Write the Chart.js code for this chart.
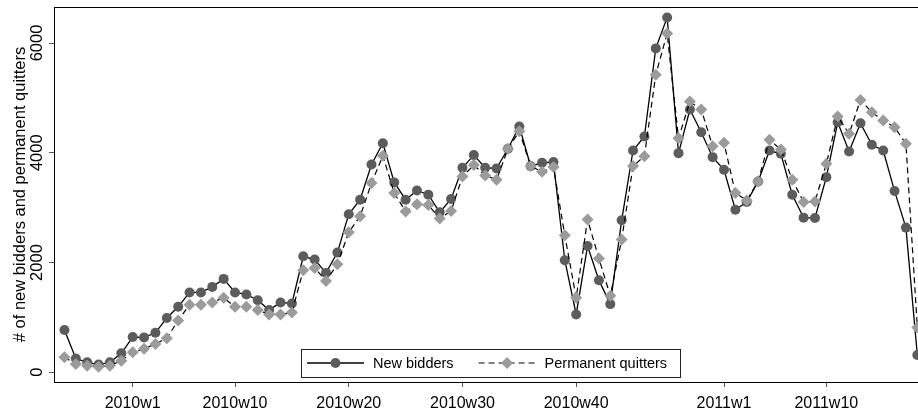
<!DOCTYPE html>
<html>
<head>
<meta charset="utf-8">
<script src="https://cdn.jsdelivr.net/npm/chart.js@4/dist/chart.umd.min.js"></script>
<style>
  html, body { margin: 0; padding: 0; background: #fff; overflow: hidden; }
  #wrap { width: 918px; height: 413px; position: relative; }
</style>
</head>
<body>
<div id="wrap"><canvas id="c"></canvas></div>
<script>
// Weekly counts, 2009w47 to 2011w18
const weeks = [
  "2009w47","2009w48","2009w49","2009w50","2009w51","2009w52",
  "2010w1","2010w2","2010w3","2010w4","2010w5","2010w6","2010w7","2010w8","2010w9","2010w10",
  "2010w11","2010w12","2010w13","2010w14","2010w15","2010w16","2010w17","2010w18","2010w19","2010w20",
  "2010w21","2010w22","2010w23","2010w24","2010w25","2010w26","2010w27","2010w28","2010w29","2010w30",
  "2010w31","2010w32","2010w33","2010w34","2010w35","2010w36","2010w37","2010w38","2010w39","2010w40",
  "2010w41","2010w42","2010w43","2010w44","2010w45","2010w46","2010w47","2010w48","2010w49","2010w50",
  "2010w51","2010w52",
  "2011w1","2011w2","2011w3","2011w4","2011w5","2011w6","2011w7","2011w8","2011w9","2011w10",
  "2011w11","2011w12","2011w13","2011w14","2011w15","2011w16","2011w17","2011w18"
];

const newBidders = [
  769, 250, 182, 140, 182, 345,
  642, 636, 720, 990, 1193, 1455, 1455, 1556, 1702, 1454,
  1418, 1314, 1133, 1273, 1254, 2114, 2054, 1811, 2181, 2878,
  3145, 3787, 4174, 3460, 3145, 3314, 3236, 2914, 3157, 3727,
  3957, 3727, 3715, 4072, 4478, 3757, 3818, 3830, 2042, 1054,
  2302, 1678, 1242, 2769, 4041, 4296, 5902, 6465, 3993, 4787,
  4374, 3920,
  3690, 2963, 3102, 3478, 4041, 3981, 3236, 2818, 2812, 3556,
  4556, 4023, 4538, 4145, 4041, 3302, 2636, 315
];

const permanentQuitters = [
  275, 151, 120, 102, 120, 211,
  366, 427, 517, 620, 945, 1230, 1230, 1273, 1357, 1193,
  1193, 1133, 1054, 1054, 1091, 1860, 1902, 1665, 1969, 2551,
  2842, 3447, 3945, 3265, 2932, 3060, 3047, 2800, 2938, 3569,
  3775, 3587, 3509, 4072, 4393, 3757, 3654, 3739, 2496, 1357,
  2782, 2073, 1393, 2418, 3757, 3938, 5423, 6174, 4265, 4932,
  4787, 4120,
  4181, 3265, 3132, 3478, 4236, 4060, 3509, 3102, 3114, 3800,
  4660, 4345, 4963, 4738, 4587, 4466, 4163, 818
];

const seriesNames = ["New bidders", "Permanent quitters"];
const xTickWeeks = ["2010w1", "2010w10", "2010w20", "2010w30", "2010w40", "2011w1", "2011w10"];
const yTickValues = [0, 2000, 4000, 6000];
const yTitle = "# of new bidders and permanent quitters";

// x positions count weeks from 2010w1
const origin = weeks.indexOf("2010w1");
const asPoints = vals => vals.map((v, i) => ({ x: i - origin, y: v }));
const xTickPositions = xTickWeeks.map(w => weeks.indexOf(w) - origin);

const FONT = '"Liberation Sans", Arial, Helvetica, sans-serif';

// Outline of the plot region
const plotFrame = {
  id: 'plotFrame',
  beforeDatasetsDraw(chart) {
    const { ctx, chartArea: a } = chart;
    ctx.save();
    ctx.strokeStyle = '#000';
    ctx.lineWidth = 1;
    ctx.strokeRect(Math.round(a.left) + 0.5, Math.round(a.top) + 0.5,
                   Math.round(a.right - a.left), Math.round(a.bottom - a.top));
    ctx.restore();
  }
};

// Boxed legend inside the bottom of the plot region: line sample with marker, then label
const boxedLegend = {
  id: 'boxedLegend',
  afterDatasetsDraw(chart) {
    const { ctx, chartArea: a } = chart;
    const sets = chart.data.datasets;
    const sample = 57, gapText = 9, gapItem = 25, padL = 6, padR = 13, h = 28;
    ctx.save();
    ctx.font = '14.5px ' + FONT;
    const widths = sets.map(ds => ctx.measureText(ds.label).width);
    let w = padL + padR;
    widths.forEach((tw, k) => { w += sample + gapText + tw + (k ? gapItem : 0); });
    const left = Math.round((a.left + a.right) / 2 + 5 - w / 2);
    const bottom = Math.round(a.bottom - 5);
    const top = bottom - h;
    ctx.fillStyle = '#fff';
    ctx.fillRect(left, top, w, h);
    ctx.strokeStyle = '#222';
    ctx.lineWidth = 1;
    ctx.strokeRect(left + 0.5, top + 0.5, Math.round(w), h);
    const cy = top + h / 2;
    let x = left + padL;
    sets.forEach((ds, k) => {
      if (k) x += gapItem;
      ctx.strokeStyle = ds.borderColor;
      ctx.lineWidth = ds.borderWidth;
      ctx.setLineDash(ds.borderDash || []);
      ctx.beginPath();
      ctx.moveTo(x, cy);
      ctx.lineTo(x + sample, cy);
      ctx.stroke();
      ctx.setLineDash([]);
      ctx.fillStyle = ds.pointBackgroundColor;
      ctx.strokeStyle = ds.pointBorderColor;
      Chart.helpers.drawPoint(ctx, {
        pointStyle: ds.pointStyle, radius: ds.pointRadius, rotation: 0, borderWidth: 0
      }, x + sample / 2, cy);
      x += sample + gapText;
      ctx.fillStyle = '#000';
      ctx.textAlign = 'left';
      ctx.textBaseline = 'middle';
      ctx.fillText(ds.label, x, cy + 1);
      x += widths[k];
    });
    ctx.restore();
  }
};

new Chart(document.getElementById('c'), {
  type: 'line',
  data: {
    datasets: [
      {
        label: seriesNames[0],
        data: asPoints(newBidders),
        borderColor: '#000',
        borderWidth: 1.3,
        pointStyle: 'circle',
        pointRadius: 5,
        pointBackgroundColor: '#5c5c5c',
        pointBorderColor: '#5c5c5c',
        pointBorderWidth: 0,
        tension: 0,
        order: 1
      },
      {
        label: seriesNames[1],
        data: asPoints(permanentQuitters),
        borderColor: '#000',
        borderWidth: 1.2,
        borderDash: [6, 4],
        pointStyle: 'rectRot',
        pointRadius: 6,
        pointBackgroundColor: '#9b9b9b',
        pointBorderColor: '#9b9b9b',
        pointBorderWidth: 0,
        tension: 0,
        order: 0
      }
    ]
  },
  options: {
    responsive: true,
    maintainAspectRatio: false,
    animation: false,
    layout: { padding: { top: 7, left: 0, right: 0, bottom: 0 }, autoPadding: false },
    plugins: {
      legend: { display: false },
      tooltip: { enabled: false }
    },
    scales: {
      x: {
        type: 'linear',
        min: -6.92,
        max: 69.06,
        afterBuildTicks: s => { s.ticks = xTickPositions.map(v => ({ value: v })); },
        afterFit: s => { s.height = 31; },
        grid: { display: true, drawOnChartArea: false, drawTicks: true, tickLength: 5, color: '#555' },
        border: { display: true, color: '#000', width: 1 },
        ticks: {
          color: '#000',
          font: { family: FONT, size: 16 },
          padding: 7,
          maxRotation: 0,
          autoSkip: false,
          callback: v => weeks[v + origin]
        }
      },
      y: {
        type: 'linear',
        min: -177,
        max: 6656,
        afterBuildTicks: s => { s.ticks = yTickValues.map(v => ({ value: v })); },
        afterFit: s => { s.width = 54; },
        grid: { display: true, drawOnChartArea: false, drawTicks: true, tickLength: 5, color: '#555' },
        border: { display: true, color: '#000', width: 1 },
        ticks: {
          color: '#000',
          font: { family: FONT, size: 16.5 },
          minRotation: 90,
          maxRotation: 90,
          crossAlign: 'center',
          padding: -7,
          autoSkip: false,
          callback: v => String(v)
        },
        title: {
          display: true,
          text: yTitle,
          color: '#000',
          font: { family: FONT, size: 16.5 },
          padding: { top: 11, bottom: 0 }
        }
      }
    }
  },
  plugins: [plotFrame, boxedLegend]
});
</script>
</body>
</html>
